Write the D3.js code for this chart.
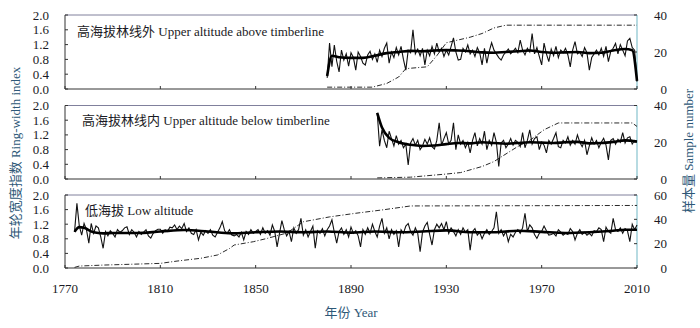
<!DOCTYPE html>
<html><head><meta charset="utf-8">
<script src="https://cdn.jsdelivr.net/npm/d3@7"></script>
<style>body{margin:0;background:#fff}svg{display:block}</style>
</head><body><svg id="c" width="700" height="328"></svg>
<script>
// ---------- DATA ----------
const xTicks = [1770, 1810, 1850, 1890, 1930, 1970, 2010];
const yTicks = [0, 0.4, 0.8, 1.2, 1.6, 2.0];
const yTickLabels = ["0.0", "0.4", "0.8", "1.2", "1.6", "2.0"];
const titles = ["高海拔林线外 Upper altitude above timberline",
                "高海拔林线内 Upper altitude below timberline",
                "低海拔 Low altitude"];
const rightMax = [40, 40, 60];
const rightTicks1 = [0, 20, 40];
const rightTicks2 = [0, 20, 40];
const rightTicks3 = [0, 20, 40, 60];

// Panel 1: upper altitude above timberline (1880-2010)
const p1Start = 1880;
const p1Annual = [
 0.30,1.24,0.60,1.19,0.75,0.46,1.05,0.78,0.95,0.62,
 0.98,0.85,0.51,1.00,0.88,0.70,0.65,0.92,1.02,0.80,
 0.95,0.72,1.05,0.88,1.10,1.24,0.70,1.00,0.85,1.12,
 0.92,1.15,0.80,0.51,1.05,0.98,1.60,0.95,1.08,0.90,
 1.10,0.65,1.05,0.90,1.15,0.95,1.24,1.00,1.10,0.88,
 1.05,0.92,1.15,1.38,1.00,0.78,0.80,1.10,1.00,1.19,
 0.95,1.05,0.88,1.12,0.98,0.65,1.10,0.70,1.02,1.25,
 1.05,0.95,0.85,0.78,0.92,1.00,1.08,0.95,1.02,1.10,
 0.98,1.32,1.05,0.92,1.10,1.00,1.50,0.95,1.12,0.88,
 0.65,1.24,0.95,0.74,1.08,0.90,1.15,0.85,1.05,0.98,
 1.10,0.92,0.60,1.05,1.28,0.95,1.00,0.88,1.12,0.98,
 0.51,0.85,0.95,1.05,0.92,1.10,0.88,1.15,0.74,1.02,
 1.10,1.23,0.95,1.20,1.05,0.90,1.30,1.37,1.12,1.05,
 0.20];
const p1SmoothYears = [1880,1882,1885,1890,1895,1900,1905,1910,1915,1920,1925,1930,1935,1940,1945,1950,1955,1960,1965,1970,1975,1980,1985,1990,1995,2000,2005,2008,2010];
const p1SmoothVals  = [0.35,0.90,0.86,0.84,0.84,0.90,0.97,1.00,1.03,1.02,1.04,1.05,1.04,1.02,0.99,0.98,1.00,1.02,1.04,1.00,0.98,0.99,1.00,0.97,0.98,1.04,1.08,1.05,0.22];
const p1DepthYears = [1880,1899,1905,1910,1913,1922,1926,1930,1935,1940,1945,1950,1955,2010];
const p1DepthVals  = [1,1,3,6.5,11,12,18,25,26.5,28,30,33,34.5,34.5];

// Panel 2: upper altitude below timberline (1901-2010)
const p2Start = 1901;
const p2Annual = [
 1.80,0.89,1.34,1.05,0.85,1.30,1.10,0.90,1.18,0.95,
 1.05,0.85,0.95,0.38,0.98,1.10,0.92,1.05,0.80,0.90,
 1.08,0.95,1.12,0.88,0.82,1.05,1.53,0.92,1.10,1.26,
 0.95,1.05,1.53,0.80,1.20,0.95,1.05,0.85,1.00,0.71,
 1.05,1.26,0.90,1.10,0.95,1.30,0.80,1.05,0.92,1.26,
 1.00,0.34,0.98,1.05,0.85,0.95,1.10,0.92,1.05,1.00,
 0.88,1.26,0.85,1.05,1.34,0.95,1.10,1.15,0.80,1.00,
 0.92,0.71,1.05,0.95,1.10,1.26,0.88,0.85,1.05,0.98,
 1.15,0.92,1.05,0.95,1.20,1.00,0.88,1.05,0.66,0.90,
 1.12,0.95,1.05,0.85,1.00,1.11,0.92,0.52,1.05,1.10,
 0.95,1.08,1.00,1.26,0.98,1.12,1.15,0.95,1.05,1.02];
const p2SmoothYears = [1901,1903,1906,1910,1915,1920,1925,1930,1935,1940,1945,1950,1955,1960,1965,1970,1975,1980,1985,1990,1995,2000,2005,2010];
const p2SmoothVals  = [1.80,1.40,1.12,1.00,0.93,0.90,0.91,0.95,0.98,0.97,1.00,0.98,0.96,0.98,1.00,0.99,0.98,1.00,1.01,0.97,0.98,1.01,1.05,1.02];
const p2DepthYears = [1901,1915,1930,1936,1945,1950,1953,1960,1965,1971,1977,2008,2010];
const p2DepthVals  = [0.6,1,2.7,3.5,6.8,9.5,12,17.7,21,26.8,30.5,30.5,28.6];

// Panel 3: low altitude (1774-2010)
const p3Start = 1774;
const p3Annual = [
 0.99,1.77,1.15,0.90,1.22,1.05,
 0.68,1.22,0.95,1.15,1.10,0.85,0.54,1.00,0.88,1.02,
 0.95,0.85,1.05,0.98,1.02,1.10,1.13,0.92,1.05,0.98,
 0.85,1.00,0.92,0.98,1.05,0.88,0.82,0.95,1.02,1.06,
 1.06,0.95,1.05,1.00,1.12,1.10,1.18,1.05,1.15,1.08,
 1.22,1.00,1.10,0.95,0.92,1.05,0.77,0.98,0.90,1.02,
 0.95,1.05,0.90,0.85,0.98,1.10,1.27,1.02,0.95,1.05,
 0.90,0.88,0.92,0.85,0.98,0.77,1.00,0.92,1.05,0.95,
 1.00,1.05,0.92,1.10,0.95,1.02,0.90,1.18,1.00,0.58,
 0.95,1.30,1.05,0.88,1.00,0.72,1.10,0.95,1.05,1.36,
 0.90,1.05,0.85,1.00,1.15,0.54,1.02,0.95,1.08,0.88,
 1.05,1.15,1.32,0.98,0.68,1.00,1.10,0.92,1.05,0.85,
 1.12,0.95,1.02,0.88,0.58,1.05,0.92,1.10,0.95,1.20,
 1.00,0.85,1.15,1.36,0.95,1.10,0.80,1.05,0.92,1.02,
 0.58,1.05,0.95,1.15,1.22,1.00,0.90,1.10,0.95,0.45,
 0.98,1.15,1.25,0.92,0.63,1.05,1.20,1.10,1.22,1.05,
 1.27,0.95,1.10,1.00,0.88,1.05,0.92,1.10,0.98,1.05,
 0.49,1.00,1.08,0.90,0.98,0.80,0.95,1.05,0.92,1.00,
 1.10,1.54,0.95,1.05,0.88,1.00,0.72,0.92,0.85,0.98,
 1.05,0.95,1.10,1.50,1.00,1.18,1.10,0.92,0.81,0.95,
 1.00,1.15,1.02,0.90,0.92,0.95,0.88,1.05,0.98,0.90,
 0.95,0.92,1.08,1.00,0.77,0.95,1.05,0.92,0.98,0.90,
 0.95,0.88,1.02,1.00,1.10,1.05,0.72,1.12,1.00,0.95,
 1.36,1.05,1.00,1.10,0.95,1.08,1.02,0.72,1.20,1.05,
 1.18];
const p3SmoothYears = [1774,1776,1778,1782,1786,1790,1800,1810,1820,1830,1840,1850,1860,1870,1880,1890,1900,1910,1920,1930,1940,1950,1960,1970,1980,1990,2000,2005,2010];
const p3SmoothVals  = [0.99,1.12,1.10,0.98,0.95,0.96,0.96,1.00,1.04,1.00,0.95,0.98,1.00,0.98,1.00,0.97,1.00,0.98,1.00,1.03,0.98,0.98,1.02,0.99,0.96,0.98,1.02,1.05,1.05];
const p3DepthYears = [1774,1776,1786,1810,1817,1827,1834,1839,1841,1849,1855,1863,1870,1881,1892,1903,1915,2010];
const p3DepthVals  = [0.5,1.6,2.4,3.8,5.7,8,10.7,16,18.9,21.6,24.4,28.7,38,42,45,47.7,51,51.4];

// ---------- DRAW ----------
const FONT = "'Liberation Serif','Times New Roman','Noto Sans CJK SC',serif";
const svg = d3.select("#c");
svg.append("rect").attr("width",700).attr("height",328).attr("fill","#fff");

const x = d3.scaleLinear().domain([1770, 2010]).range([65, 637]);
const panels = [
  {top:15, bottom:89, title:titles[0], tx:77, ty:36, start:p1Start, annual:p1Annual, sy:p1SmoothYears, sv:p1SmoothVals, dy:p1DepthYears, dv:p1DepthVals, rmax:rightMax[0], rticks:rightTicks1},
  {top:105.5, bottom:179, title:titles[1], tx:82, ty:124.5, start:p2Start, annual:p2Annual, sy:p2SmoothYears, sv:p2SmoothVals, dy:p2DepthYears, dv:p2DepthVals, rmax:rightMax[1], rticks:rightTicks2},
  {top:195, bottom:268, title:titles[2], tx:85, ty:214.5, start:p3Start, annual:p3Annual, sy:p3SmoothYears, sv:p3SmoothVals, dy:p3DepthYears, dv:p3DepthVals, rmax:rightMax[2], rticks:rightTicks3}
];

panels.forEach(p => {
  const y = d3.scaleLinear().domain([0, 2]).range([p.bottom, p.top]);
  const yr = d3.scaleLinear().domain([0, p.rmax]).range([p.bottom, p.top]);
  const g = svg.append("g");
  const [x0, x1] = x.range();

  // borders
  g.append("line").attr("x1",x0).attr("x2",x1).attr("y1",p.top).attr("y2",p.top).attr("stroke","#80809c").attr("stroke-width",1);
  g.append("line").attr("x1",x1).attr("x2",x1).attr("y1",p.top).attr("y2",p.bottom).attr("stroke","#9fcfd8").attr("stroke-width",1.5);
  g.append("line").attr("x1",x0).attr("x2",x0).attr("y1",p.top).attr("y2",p.bottom).attr("stroke","#333").attr("stroke-width",1);
  g.append("line").attr("x1",x0).attr("x2",x1).attr("y1",p.bottom).attr("y2",p.bottom).attr("stroke","#333").attr("stroke-width",1);

  // left ticks (inward)
  yTicks.forEach((t,i) => {
    g.append("line").attr("x1",x0).attr("x2",x0+3).attr("y1",y(t)).attr("y2",y(t)).attr("stroke","#333");
    g.append("text").attr("x",49).attr("y",y(t)).attr("dy","0.35em").attr("text-anchor","end")
      .attr("font-family",FONT).attr("font-size",13).attr("fill","#1a1a24").text(yTickLabels[i]);
  });
  // right ticks
  p.rticks.forEach(t => {
    g.append("line").attr("x1",x1).attr("x2",x1-3).attr("y1",yr(t)).attr("y2",yr(t)).attr("stroke","#333");
    g.append("text").attr("x",667).attr("y",yr(t)).attr("dy","0.35em").attr("text-anchor","end")
      .attr("font-family",FONT).attr("font-size",13).attr("fill","#1a1a24").text(t);
  });
  // bottom ticks (inward)
  xTicks.forEach(t => {
    g.append("line").attr("x1",x(t)).attr("x2",x(t)).attr("y1",p.bottom).attr("y2",p.bottom-3).attr("stroke","#333");
  });

  // sample depth (dash-dot)
  const depth = p.dy.map((d,i) => [d, p.dv[i]]);
  g.append("path").datum(depth)
    .attr("d", d3.line().x(d=>x(d[0])).y(d=>yr(d[1])))
    .attr("fill","none").attr("stroke","#2a2a2a").attr("stroke-width",1)
    .attr("stroke-dasharray","5,2,1,2");

  // annual thin line
  const annual = p.annual.map((v,i) => [p.start+i, v]);
  g.append("path").datum(annual)
    .attr("d", d3.line().x(d=>x(d[0])).y(d=>y(d[1])))
    .attr("fill","none").attr("stroke","#111").attr("stroke-width",1.1);

  // smoothed thick line
  const smooth = p.sy.map((d,i) => [d, p.sv[i]]);
  g.append("path").datum(smooth)
    .attr("d", d3.line().curve(d3.curveMonotoneX).x(d=>x(d[0])).y(d=>y(d[1])))
    .attr("fill","none").attr("stroke","#000").attr("stroke-width",2.6);

  // panel title
  g.append("text").attr("x",p.tx).attr("y",p.ty).attr("font-family",FONT).attr("font-size",13)
    .attr("fill","#1a1a24").text(p.title);
});

// x axis labels
xTicks.forEach(t => {
  svg.append("text").attr("x",x(t)).attr("y",288).attr("dy","0.35em").attr("text-anchor","middle")
    .attr("font-family",FONT).attr("font-size",13).attr("fill","#1a1a24").text(t);
});
svg.append("text").attr("x",351).attr("y",312).attr("dy","0.35em").attr("text-anchor","middle")
  .attr("font-family",FONT).attr("font-size",13).attr("fill","#2e5877").text("年份 Year");

// axis titles
svg.append("text").attr("transform","translate(15,153) rotate(-90)").attr("text-anchor","middle").attr("dy","0.35em")
  .attr("font-family",FONT).attr("font-size",13).attr("fill","#2e5877").text("年轮宽度指数 Ring-width index");
svg.append("text").attr("transform","translate(688,151) rotate(-90)").attr("text-anchor","middle").attr("dy","0.35em")
  .attr("font-family",FONT).attr("font-size",13).attr("fill","#2e5877").text("样本量 Sample number");
</script></body></html>
